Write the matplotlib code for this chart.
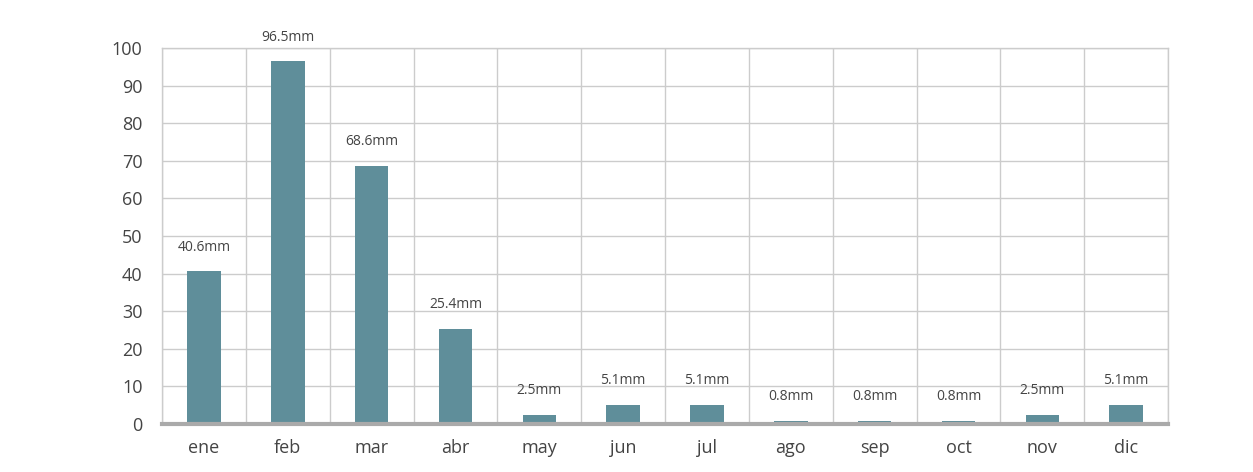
import matplotlib
matplotlib.use("Agg")
import matplotlib.pyplot as plt
import numpy as np

# Monthly rainfall (mm)
months = ["ene", "feb", "mar", "abr", "may", "jun", "jul", "ago", "sep", "oct", "nov", "dic"]
rain_mm = [40.6, 96.5, 68.6, 25.4, 2.5, 5.1, 5.1, 0.8, 0.8, 0.8, 2.5, 5.1]
y_ticks = [0, 10, 20, 30, 40, 50, 60, 70, 80, 90, 100]

plt.rcParams["font.family"] = ["Open Sans", "DejaVu Sans"]

fig = plt.figure(figsize=(12.53, 4.72), dpi=100)
ax = fig.add_axes([0.1293, 0.1017, 0.8029, 0.7963])

x = np.arange(len(months))
ax.bar(x, rain_mm, width=0.4, color="#5f8e9a", zorder=3)

for xi, v in zip(x, rain_mm):
    ax.annotate(f"{v}mm", (xi, v), xytext=(0, 12), textcoords="offset points",
                ha="center", va="bottom", fontsize=10, color="#444444")

ax.set_xlim(-0.5, len(months) - 0.5)
ax.set_ylim(0, 100)
ax.set_yticks(y_ticks)
ax.set_xticks(x)
ax.set_xticklabels(months)

# grid: horizontal at ticks, vertical between categories
ax.set_xticks(np.arange(-0.5, len(months)), minor=True)
ax.grid(axis="y", color="#cccccc", linewidth=1, zorder=0)
ax.grid(axis="x", which="minor", color="#cccccc", linewidth=1, zorder=0)
ax.grid(axis="x", which="major", visible=False)

for side in ["top", "right", "left"]:
    ax.spines[side].set_color("#cccccc")
    ax.spines[side].set_linewidth(1)
ax.spines["bottom"].set_color("#aaaaaa")
ax.spines["bottom"].set_linewidth(3)
ax.spines["bottom"].set_zorder(4)

ax.tick_params(axis="both", which="both", length=0)
ax.tick_params(axis="y", labelsize=13, labelcolor="#444444", pad=14)
ax.tick_params(axis="x", labelsize=13, labelcolor="#444444", pad=11)

fig.savefig("out.png", dpi=100)
